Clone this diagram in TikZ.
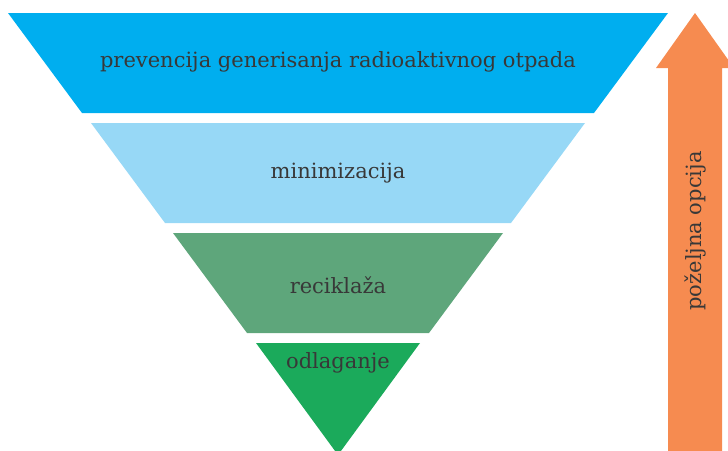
\documentclass[tikz,border=0pt]{standalone}
\usepackage{fontspec}
\setmainfont{DejaVu Serif}
\begin{document}
\begin{tikzpicture}[x=1pt,y=-1pt,
  lbl/.style={text=black!78, font=\fontsize{21}{25}\selectfont, inner sep=0pt}]
\useasboundingbox (0,0) rectangle (728,450);
\definecolor{cA}{HTML}{00AEEF}
\definecolor{cB}{HTML}{97D8F6}
\definecolor{cC}{HTML}{5EA67B}
\definecolor{cD}{HTML}{1BAA5B}
\definecolor{cE}{HTML}{F68B50}
\begin{scope}
\clip (0,0) rectangle (728,450);
\fill[cA] (8,13) -- (668,13) -- (594,113) -- (82,113) -- cycle;
\fill[cB] (91,123) -- (585,123) -- (511,223) -- (165,223) -- cycle;
\fill[cC] (173,233) -- (503,233) -- (429,333) -- (247,333) -- cycle;
\fill[cD] (256,343) -- (420,343) -- (338,455) -- cycle;
\fill[cE] (695,13) -- (734,68) -- (722,68) -- (722,460) -- (668,460) -- (668,68) -- (656,68) -- cycle;
\end{scope}
\node[lbl] (t1) at (338,62) {prevencija generisanja radioaktivnog otpada};
\node[lbl] (t2) at (338,173) {minimizacija};
\node[lbl] (t3) at (338,285) {reciklaža};
\node[lbl] (t4) at (338,363) {odlaganje};
\node[lbl, rotate=90] (t5) at (695,231) {poželjna opcija};
\end{tikzpicture}
\end{document}
